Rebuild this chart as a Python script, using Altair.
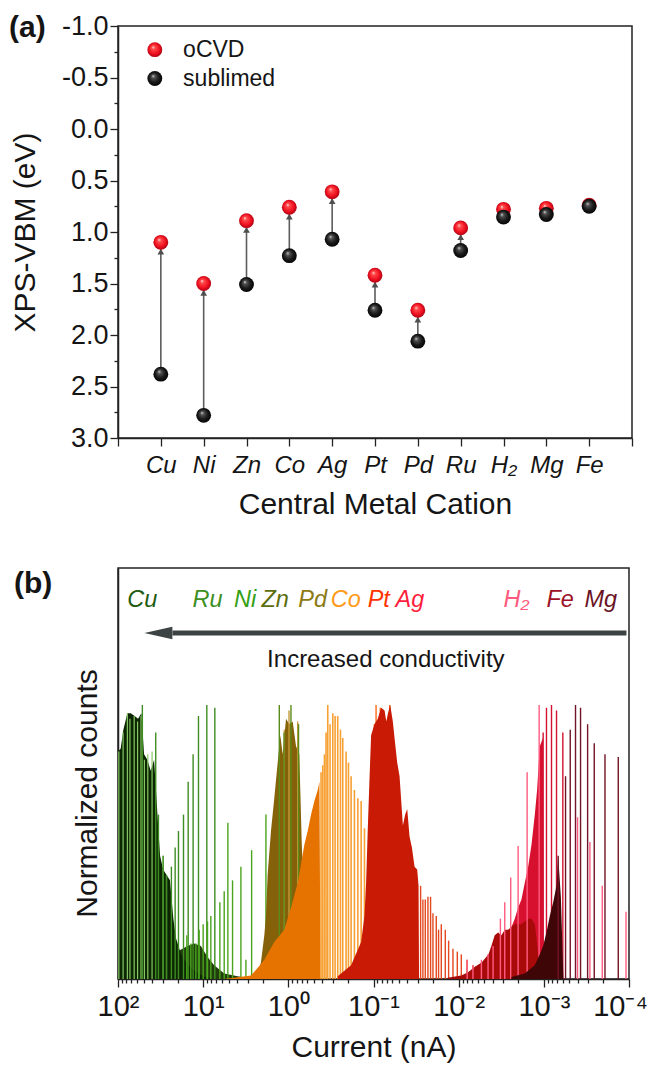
import altair as alt
import pandas as pd

FONT = "Liberation Sans"
INK = "#151515"

# ---------------- panel (a) data ----------------
cations = ["Cu", "Ni", "Zn", "Co", "Ag", "Pt", "Pd", "Ru", "H₂", "Mg", "Fe"]
vbm_ocvd = [1.10, 1.50, 0.89, 0.76, 0.61, 1.42, 1.76, 0.96, 0.78, 0.77, 0.74]
vbm_sublimed = [2.38, 2.78, 1.51, 1.23, 1.07, 1.76, 2.06, 1.18, 0.855, 0.83, 0.75]
legend_names = ["oCVD", "sublimed"]
vbm_ticks = [-1.0, -0.75, -0.5, -0.25, 0.0, 0.25, 0.5, 0.75, 1.0, 1.25, 1.5,
             1.75, 2.0, 2.25, 2.5, 2.75, 3.0]

# ---------------- panel (b) data (log10 current, normalized count) ----------------
cu_fill_log = [2.0, 1.969, 1.937, 1.89, 1.851, 1.804, 1.765, 1.725, 1.694, 1.655, 1.616,
               1.576, 1.537, 1.506, 1.47, 1.43, 1.39, 1.35, 1.32, 1.26, 1.2, 1.1, 1.0, 0.9]
cu_fill_h = [0.83, 0.84, 0.91, 0.97, 0.97, 0.96, 0.95, 0.97, 0.82, 0.80, 0.76,
             0.80, 0.60, 0.45, 0.40, 0.38, 0.36, 0.22, 0.15, 0.09, 0.06, 0.03, 0.01, 0.0]
cu_edge_log = [1.99, 1.94, 1.89, 1.86, 1.81, 1.77, 1.73, 1.69, 1.65, 1.60, 1.47, 1.43]
cu_edge_h = [0.83, 0.90, 0.97, 0.95, 0.96, 0.94, 0.96, 0.80, 0.82, 0.83, 0.45, 0.38]

ru_fill_log = [1.70, 1.655, 1.537, 1.42, 1.302, 1.184, 1.106, 1.027, 0.949, 0.871, 0.753, 0.596, 0.40]
ru_fill_h = [0.0, 0.12, 0.14, 0.12, 0.10, 0.12, 0.13, 0.12, 0.08, 0.05, 0.02, 0.01, 0.0]
ru_spike_log = [1.714, 1.557, 1.525, 1.47, 1.431, 1.373, 1.329, 1.29, 1.231, 1.176,
                1.118, 1.055, 0.957, 0.863]
ru_spike_h = [1.0, 0.90, 0.60, 0.45, 0.38, 0.41, 0.48, 0.54, 0.60, 0.72, 0.82, 0.96, 1.0, 0.99]

ni_spike_log = [1.192, 1.145, 1.086, 1.047, 1.0, 0.949, 0.91, 0.804, 0.753, 0.71, 0.655,
                0.557, 0.498, 0.431, 0.263]
ni_spike_h = [0.16, 0.13, 0.13, 0.18, 0.20, 0.21, 0.23, 0.28, 0.32, 0.57, 0.36,
              0.41, 0.07, 0.47, 0.60]

zn_spike_log = [0.106, 0.05, -0.031, -0.12]
zn_spike_h = [1.0, 0.90, 1.0, 0.93]

pd_fill_log = [0.40, 0.361, 0.322, 0.282, 0.263, 0.243, 0.204, 0.165, 0.125, 0.094, 0.067,
               0.027, -0.012, -0.051, -0.09, -0.129, -0.157, -0.18, -0.30]
pd_fill_h = [0.0, 0.01, 0.06, 0.16, 0.23, 0.38, 0.54, 0.66, 0.79, 0.89, 0.82,
             0.95, 0.93, 0.94, 0.85, 0.82, 0.50, 0.30, 0.0]
pd_spike_log = [0.047, -0.008, -0.11]
pd_spike_h = [0.91, 0.98, 0.94]

co_fill_log = [0.753, 0.596, 0.439, 0.361, 0.282, 0.165, 0.047, -0.031, -0.11, -0.188,
               -0.227, -0.267, -0.306, -0.345, -0.365, -0.378]
co_fill_h = [0.0, 0.006, 0.013, 0.04, 0.07, 0.135, 0.18, 0.26, 0.35, 0.49,
             0.54, 0.60, 0.65, 0.69, 0.72, 0.0]
co_spike_log = [-0.384, -0.404, -0.424, -0.443, -0.463, -0.49, -0.522, -0.549, -0.58,
                -0.612, -0.639, -0.678, -0.706, -0.737, -0.776, -0.816, -0.855, -0.894]
co_spike_h = [0.755, 0.78, 0.82, 0.90, 1.0, 0.93, 0.97, 0.96, 0.96,
              0.91, 0.88, 0.83, 0.79, 0.74, 0.69, 0.66, 0.65, 0.55]

pt_spike_log = [-0.99, -1.01, -1.03, -1.08, -1.19]
pt_spike_h = [0.89, 0.93, 1.0, 0.99, 1.0]

ag_fill_log = [-0.58, -0.737, -0.855, -0.894, -0.913, -0.933, -0.953, -0.972, -1.011, -1.05,
               -1.09, -1.13, -1.15, -1.17, -1.196, -1.227, -1.247, -1.278, -1.306, -1.345,
               -1.372, -1.396, -1.423, -1.451, -1.482, -1.513, -1.529, -1.535]
ag_fill_h = [0.01, 0.05, 0.135, 0.23, 0.35, 0.55, 0.73, 0.89, 0.93, 0.95,
             0.99, 0.98, 0.94, 0.97, 1.0, 0.94, 0.88, 0.79, 0.74, 0.56,
             0.60, 0.62, 0.52, 0.48, 0.41, 0.40, 0.34, 0.0]
ag_spike_log = [-1.553, -1.58, -1.608, -1.639, -1.67, -1.698, -1.737, -1.764, -1.796,
                -1.843, -1.882, -1.933, -1.984, -2.031, -2.098, -2.168, -2.227]
ag_spike_h = [0.34, 0.29, 0.29, 0.30, 0.30, 0.24, 0.23, 0.18, 0.20,
              0.18, 0.14, 0.11, 0.10, 0.09, 0.07, 0.05, 0.04]

h2_bar_log = [-2.62, -2.659, -2.698, -2.737, -2.776, -2.816, -2.855, -2.894, -2.921, -2.953,
              -2.99, -3.0]
h2_bar_h = [0.19, 0.22, 0.26, 0.29, 0.35, 0.41, 0.49, 0.60, 0.69, 0.85, 0.88, 0.0]
h2_fill_log = [-1.87, -2.03, -2.11, -2.19, -2.27, -2.35, -2.384, -2.423, -2.463, -2.502,
               -2.541, -2.58, -2.619, -2.659, -2.698, -2.737, -2.776, -2.816, -2.855, -2.894,
               -2.93, -2.95]
h2_fill_h = [0.005, 0.013, 0.025, 0.045, 0.06, 0.09, 0.12, 0.16, 0.17, 0.16,
             0.18, 0.18, 0.19, 0.20, 0.20, 0.20, 0.21, 0.22, 0.22, 0.20, 0.10, 0.0]
h2_spike_log = [-2.10, -2.168, -2.267, -2.345, -2.404, -2.49, -2.541, -2.611, -2.698,
                -2.804, -2.945, -3.396, -3.541, -3.686, -3.965]
h2_spike_h = [0.07, 0.05, 0.07, 0.09, 0.12, 0.22, 0.28, 0.37, 0.485,
              0.755, 1.0, 0.59, 0.50, 0.34, 0.245]

fe_spike_log = [-2.992, -3.031, -3.09, -3.149, -3.223]
fe_spike_h = [0.90, 0.99, 1.0, 0.98, 0.90]

mg_fill_log = [-2.619, -2.776, -2.894, -2.953, -2.992, -3.031, -3.07, -3.11, -3.149, -3.168,
               -3.20, -3.23]
mg_fill_h = [0.007, 0.02, 0.05, 0.09, 0.12, 0.17, 0.23, 0.28, 0.34, 0.45, 0.30, 0.0]
mg_spike_log = [-3.168, -3.255, -3.31, -3.372, -3.431, -3.514, -3.592, -3.718, -3.874]
mg_spike_h = [0.45, 0.74, 0.91, 1.0, 0.99, 0.93, 0.86, 0.82, 0.81]

top_labels = ["Cu", "Ru", "Ni", "Zn", "Pd", "Co", "Pt", "Ag", "H₂", "Fe", "Mg"]
top_label_log = [1.714, 0.949, 0.508, 0.155, -0.286, -0.674, -1.062, -1.427, -2.68, -3.192, -3.668]
top_label_colors = ["#1f5c12", "#3d8f1f", "#34a012", "#5c6e0e", "#8c7a14", "#ff9b1a",
                    "#ff3300", "#ff1f3d", "#ff5a7d", "#9e1228", "#6a1426"]

# =====================================================================
# Panel (a)
# =====================================================================
dfa = pd.DataFrame({"idx": list(range(1, len(cations) + 1)), "cation": cations,
                    "ocvd": vbm_ocvd, "sub": vbm_sublimed})

cat_js = "[" + ",".join("'" + c + "'" for c in cations) + "]"
half_test = "abs(datum.value*2 - round(datum.value*2)) < 0.001"

axis_ax = alt.Axis(values=list(range(0, 13)),
                   labelExpr=f"(datum.value >= 1 && datum.value <= 11) ? {cat_js}[datum.value-1] : ''",
                   labelFontSize=24, labelFontStyle="italic", labelPadding=7,
                   labelFlush=False, labelOverlap=False,
                   tickSize=8, title="Central Metal Cation", titleFontSize=30,
                   titlePadding=12, grid=False)
axis_ay = alt.Axis(values=vbm_ticks,
                   labelExpr=f"{half_test} ? replace(format(datum.value, '.1f'), '\u2212', '-') : ''",
                   labelFontSize=27, labelPadding=2, labelOverlap=False,
                   tickSize={"condition": {"test": half_test, "value": 8}, "value": 4},
                   title="XPS-VBM (eV)", titleFontSize=30, titlePadding=21, grid=False)

xsc_a = alt.Scale(domain=[0, 12], nice=False, zero=False)
ysc_a = alt.Scale(domain=[-1, 3], reverse=True, nice=False, zero=False)


def xa(field):
    return alt.X(f"{field}:Q", scale=xsc_a, axis=axis_ax)


def ya(field):
    return alt.Y(f"{field}:Q", scale=ysc_a, axis=axis_ay)


red_ball = {"gradient": "radial", "x1": 0.38, "y1": 0.32, "r1": 0.0,
            "x2": 0.5, "y2": 0.5, "r2": 0.55,
            "stops": [{"offset": 0, "color": "#ffe6e6"}, {"offset": 0.22, "color": "#ff4a4a"},
                      {"offset": 0.65, "color": "#f01020"}, {"offset": 1, "color": "#a00010"}]}
black_ball = {"gradient": "radial", "x1": 0.38, "y1": 0.32, "r1": 0.0,
              "x2": 0.5, "y2": 0.5, "r2": 0.55,
              "stops": [{"offset": 0, "color": "#d8d8d8"}, {"offset": 0.22, "color": "#505050"},
                        {"offset": 0.6, "color": "#1a1a1a"}, {"offset": 1, "color": "#000000"}]}
BALL = 220

base_a = alt.Chart(dfa)
arrows = base_a.transform_filter("datum.sub - datum.ocvd > 0.12").mark_rule(
    color="#5c5c5c", strokeWidth=1.6).encode(x=xa("idx"), y=ya("sub"), y2="ocvd:Q")
heads = base_a.transform_filter("datum.sub - datum.ocvd > 0.12").transform_calculate(
    head="datum.ocvd + 0.09").mark_point(
    shape="triangle-up", filled=True, size=45, color="#4f4f4f", opacity=1).encode(
    x=xa("idx"), y=ya("head"))
red_pts = base_a.mark_point(shape="circle", filled=True, size=BALL, fill=red_ball,
                            strokeWidth=0, opacity=1).encode(x=xa("idx"), y=ya("ocvd"))
blk_pts = base_a.mark_point(shape="circle", filled=True, size=BALL, fill=black_ball,
                            strokeWidth=0, opacity=1).encode(x=xa("idx"), y=ya("sub"))

leg = pd.DataFrame({"name": legend_names, "lx": [0.86, 0.86], "tx": [1.52, 1.52],
                    "ly": [-0.77, -0.49]})
leg_red = alt.Chart(leg.iloc[[0]]).mark_point(shape="circle", filled=True, size=BALL,
                                              fill=red_ball, strokeWidth=0, opacity=1).encode(
    x=xa("lx"), y=ya("ly"))
leg_blk = alt.Chart(leg.iloc[[1]]).mark_point(shape="circle", filled=True, size=BALL,
                                              fill=black_ball, strokeWidth=0, opacity=1).encode(
    x=xa("lx"), y=ya("ly"))
leg_txt = alt.Chart(leg).mark_text(align="left", baseline="middle", fontSize=23,
                                   font=FONT, color=INK).encode(
    x=xa("tx"), y=ya("ly"), text="name:N")
tag_a = alt.Chart(alt.Data(values=[{"t": "(a)"}])).mark_text(
    align="left", baseline="middle", fontSize=30, fontWeight="bold", font=FONT,
    color=INK).encode(x=alt.value(-109), y=alt.value(2), text="t:N")

chart_a = alt.layer(arrows, heads, red_pts, blk_pts, leg_red, leg_blk, leg_txt, tag_a).properties(
    width=514, height=412)

# =====================================================================
# Panel (b)
# =====================================================================
sup_js = "['\u207b\u2074','\u207b\u00b3','\u207b\u00b2','\u207b\u00b9','\u2070','\u00b9','\u00b2']"
dec_test = "abs(log(datum.value)/LN10 - round(log(datum.value)/LN10)) < 0.001"
b_tick_values = [k * 10.0 ** e for e in range(-4, 2) for k in range(1, 10)] + [100.0]

axis_bx = alt.Axis(values=b_tick_values,
                   labelExpr=f"{dec_test} ? '10' + {sup_js}[round(log(datum.value)/LN10) + 4] : ''",
                   labelFontSize=29, labelPadding=5, labelFlush=False, labelOverlap=False,
                   labelOffset={"condition": {"test": "datum.value < 0.00015", "value": -9},
                                "value": 0},
                   tickSize={"condition": {"test": dec_test, "value": 8}, "value": 4},
                   title="Current (nA)", titleFontSize=30, titlePadding=11, grid=False)
axis_by = alt.Axis(ticks=False, labels=False, title="Normalized counts", titleFontSize=30,
                   titlePadding=16, titleY=225, grid=False)

xb = alt.X("cur:Q", scale=alt.Scale(type="log", domain=[1e-4, 1e2], reverse=True, nice=False),
           axis=axis_bx)
yb = alt.Y("h:Q", scale=alt.Scale(domain=[0, 1.5], nice=False, zero=False), axis=axis_by)


def frame(logs, hs):
    return pd.DataFrame({"cur": [10.0 ** v for v in logs], "h": hs})


def spikes(logs, hs, color, width=1.4):
    return alt.Chart(frame(logs, hs)).mark_rule(color=color, strokeWidth=width).encode(
        x=xb, y=yb, y2=alt.datum(0))


def fill(logs, hs, color):
    return alt.Chart(frame(logs, hs)).mark_area(color=color, opacity=1).encode(x=xb, y=yb)


lab_df = pd.DataFrame({"name": top_labels, "cur": [10.0 ** v for v in top_label_log],
                       "h": [1.383] * len(top_labels)})
labels_b = alt.Chart(lab_df).mark_text(fontSize=23.5, fontStyle="italic", font=FONT,
                                       baseline="middle", align="center").encode(
    x=xb, y=yb, text="name:N",
    color=alt.Color("name:N", scale=alt.Scale(domain=top_labels, range=top_label_colors),
                    legend=None))

arrow_df = pd.DataFrame({"cur": [10.0 ** -3.97], "cur2": [10.0 ** 1.36], "h": [1.263]})
shaft = alt.Chart(arrow_df).mark_rule(color="#3d4242", strokeWidth=5).encode(
    x=xb, x2="cur2:Q", y=yb)
tip_df = pd.DataFrame({"cur": [10.0 ** 1.526], "h": [1.263]})
tip = alt.Chart(tip_df).mark_point(shape="M -1 0 L 1 -0.45 L 1 0.45 Z", size=784, filled=True,
                                   color="#3d4242", opacity=1).encode(x=xb, y=yb)
note_df = pd.DataFrame({"cur": [10.0 ** -1.145], "h": [1.164], "t": ["Increased conductivity"]})
note = alt.Chart(note_df).mark_text(fontSize=24, font=FONT, color=INK, baseline="middle").encode(
    x=xb, y=yb, text="t:N")
tag_b = alt.Chart(alt.Data(values=[{"t": "(b)"}])).mark_text(
    align="left", baseline="middle", fontSize=30, fontWeight="bold", font=FONT,
    color=INK).encode(x=alt.value(-104), y=alt.value(16), text="t:N")

chart_b = alt.layer(
    fill(ru_fill_log, ru_fill_h, "#213d0c"),
    fill(cu_fill_log, cu_fill_h, "#0c2602"),
    spikes(cu_edge_log, cu_edge_h, "#86c866", 1.2),
    spikes(ru_spike_log, ru_spike_h, "#3d8d22"),
    spikes(ni_spike_log, ni_spike_h, "#4aa51c"),
    fill(pd_fill_log, pd_fill_h, "#85620a"),
    spikes(pd_spike_log, pd_spike_h, "#c49a3a"),
    spikes(zn_spike_log, zn_spike_h, "#5a8a18"),
    fill(co_fill_log, co_fill_h, "#e67300"),
    spikes(co_spike_log, co_spike_h, "#f7a033", 1.6),
    spikes(pt_spike_log, pt_spike_h, "#ff6a14"),
    fill(ag_fill_log, ag_fill_h, "#c81a04"),
    spikes(ag_spike_log, ag_spike_h, "#e4481e"),
    fill(h2_bar_log, h2_bar_h, "#d6102e"),
    fill(h2_fill_log, h2_fill_h, "#a80a0a"),
    spikes(h2_spike_log, h2_spike_h, "#ff5c80"),
    spikes(fe_spike_log, fe_spike_h, "#d41232"),
    fill(mg_fill_log, mg_fill_h, "#3f0608"),
    spikes(mg_spike_log, mg_spike_h, "#701426"),
    shaft, tip, labels_b, note, tag_b,
).properties(width=511, height=411)

chart = alt.vconcat(chart_a, chart_b, spacing=130, bounds="flush").properties(
    padding={"left": 0, "top": 3, "right": 0, "bottom": 0}
).configure(font=FONT).configure_axis(
    labelFont=FONT, titleFont=FONT, labelColor=INK, titleColor=INK,
    domainColor="#222222", tickColor="#222222", domainWidth=1.5, tickWidth=1.3,
    titleFontWeight="normal"
).configure_view(stroke="#222222", strokeWidth=1.5)

chart.save("out.html", embed_options={"renderer": "svg", "actions": False})
